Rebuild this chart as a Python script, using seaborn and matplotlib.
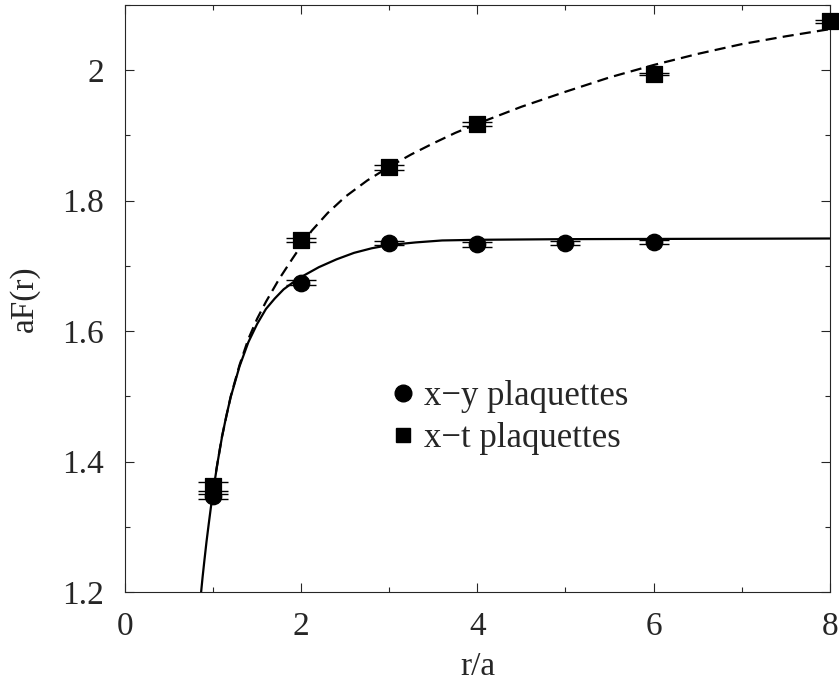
"""Recreate the aF(r) vs r/a plot with two fitted curves."""

import matplotlib.pyplot as plt
import matplotlib.ticker as ticker
import pandas as pd
import seaborn as sns
from matplotlib.lines import Line2D

# Data points
r_points = [1, 2, 3, 4, 5, 6]
xy_values = [1.347, 1.674, 1.7345, 1.733, 1.7345, 1.737]
xy_errors = [0.004, 0.004, 0.003, 0.004, 0.003, 0.003]

r_squares = [1, 2, 3, 4, 6, 8]
xt_values = [1.362, 1.739, 1.851, 1.918, 1.994, 2.075]
xt_errors = [0.007, 0.003, 0.004, 0.003, 0.002, 0.002]

# Fit curves
solid_r = [0.864, 0.88, 0.9, 0.925, 0.95, 0.975, 1.0, 1.05, 1.1, 1.15, 1.2,
           1.3, 1.4, 1.5, 1.6, 1.7, 1.8, 1.9, 2.0, 2.2, 2.4, 2.6, 2.8, 3.0,
           3.3, 3.6, 4.0, 5.0, 8.0]
solid_y = [1.200, 1.222, 1.247, 1.277, 1.304, 1.330, 1.354, 1.398, 1.437,
           1.470, 1.499, 1.546, 1.583, 1.611, 1.634, 1.650, 1.664, 1.674,
           1.683, 1.698, 1.710, 1.720, 1.727, 1.732, 1.736, 1.739, 1.740,
           1.741, 1.742]

dashed_r = [1.0, 1.1, 1.2, 1.3, 1.4, 1.5, 1.6, 1.75, 1.9, 2.0, 2.12, 2.3,
            2.5, 2.75, 3.0, 3.25, 3.5, 3.75, 4.0, 4.5, 5.0, 5.5, 6.0, 6.5,
            7.0, 7.5, 8.0]
dashed_y = [1.358, 1.438, 1.500, 1.548, 1.588, 1.619, 1.645, 1.680, 1.711,
            1.731, 1.754, 1.781, 1.806, 1.831, 1.852, 1.871, 1.888, 1.904,
            1.918, 1.944, 1.967, 1.989, 2.008, 2.025, 2.040, 2.052, 2.063]

labels = ["x\u2212y plaquettes", "x\u2212t plaquettes"]


def main():
    """Draw the figure and save it."""
    sns.set_style("ticks")
    plt.rcParams["font.family"] = ["Liberation Serif", "DejaVu Serif"]
    plt.rcParams["font.size"] = 24

    fig = plt.figure(figsize=(8.39, 6.87), dpi=100)
    ax = fig.add_axes([0.149, 0.1383, 0.84, 0.8544])

    solid = pd.DataFrame({"r": solid_r, "F": solid_y})
    dashed = pd.DataFrame({"r": dashed_r, "F": dashed_y})
    sns.lineplot(data=solid, x="r", y="F", ax=ax, color="black", lw=1.6,
                 sort=False, zorder=2)
    sns.lineplot(data=dashed, x="r", y="F", ax=ax, color="black", lw=1.6,
                 sort=False, zorder=2)
    ax.lines[-1].set_dashes((5, 2.8))

    # Error bars with wide caps
    ax.errorbar(r_points, xy_values, yerr=xy_errors, fmt="none",
                ecolor="black", elinewidth=1, capsize=11, capthick=1, zorder=3)
    ax.errorbar(r_squares, xt_values, yerr=xt_errors, fmt="none",
                ecolor="black", elinewidth=1, capsize=11, capthick=1, zorder=3)

    sns.scatterplot(x=r_points, y=xy_values, ax=ax, marker="o", s=140,
                    color="black", edgecolor="black", zorder=4, clip_on=False)
    sns.scatterplot(x=r_squares, y=xt_values, ax=ax, marker="s", s=125,
                    color="black", edgecolor="black", zorder=4, clip_on=False)

    ax.set_xlim(0, 8)
    ax.set_ylim(1.2, 2.1)
    ax.xaxis.set_major_locator(ticker.MultipleLocator(2))
    ax.xaxis.set_minor_locator(ticker.MultipleLocator(1))
    ax.yaxis.set_major_locator(ticker.MultipleLocator(0.2))
    ax.yaxis.set_minor_locator(ticker.MultipleLocator(0.1))
    ax.xaxis.set_major_formatter(ticker.FormatStrFormatter("%g"))
    ax.yaxis.set_major_formatter(ticker.FuncFormatter(lambda v, p: f"{v:g}"))
    ax.tick_params(which="both", direction="in", top=True, right=True,
                   width=0.8, labelsize=24)
    ax.tick_params(axis="x", which="major", pad=14)
    ax.tick_params(axis="y", which="major", pad=15)
    ax.tick_params(which="major", length=6.5)
    ax.tick_params(which="minor", length=3.6)
    for spine in ax.spines.values():
        spine.set_linewidth(0.8)

    ax.set_xlabel("r/a", fontsize=24, labelpad=7)
    ax.set_ylabel("aF(r)", fontsize=24, labelpad=16)

    handles = [
        Line2D([], [], ls="none", marker="o", ms=12, color="black"),
        Line2D([], [], ls="none", marker="s", ms=10.5, color="black"),
    ]
    ax.legend(handles, labels, loc="upper left", bbox_to_anchor=(0.38, 0.361),
              frameon=False, fontsize=25, handlelength=0.6, handletextpad=0.3,
              borderpad=0, borderaxespad=0, labelspacing=0.26, numpoints=1)

    fig.savefig("out.png", dpi=100)
    plt.close()


if __name__ == "__main__":
    main()
